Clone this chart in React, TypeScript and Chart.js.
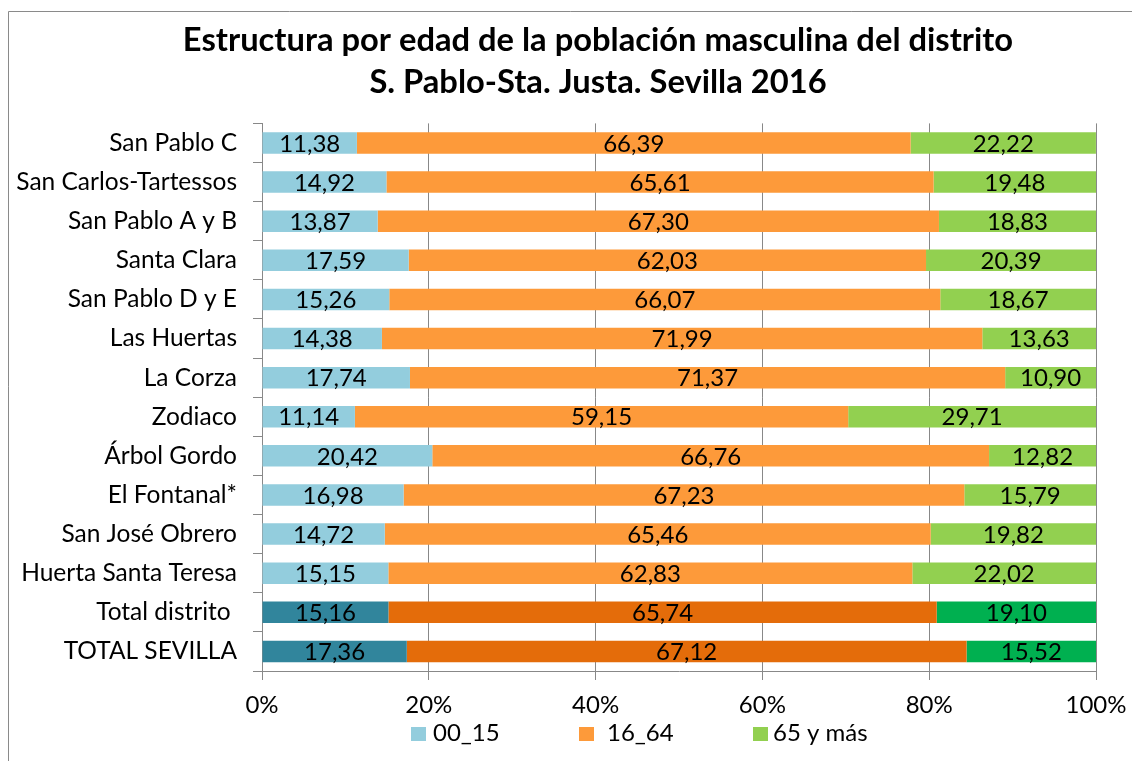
import React, { useEffect, useRef } from "react";
import { Chart, registerables } from "chart.js";

Chart.register(...registerables);

const categories = [
  "San Pablo C",
  "San Carlos-Tartessos",
  "San Pablo A y B",
  "Santa Clara",
  "San Pablo D y E",
  "Las Huertas",
  "La Corza",
  "Zodiaco",
  "Árbol Gordo",
  "El Fontanal*",
  "San José Obrero",
  "Huerta Santa Teresa",
  "Total distrito ",
  "TOTAL SEVILLA",
];

const age00_15 = [11.38, 14.92, 13.87, 17.59, 15.26, 14.38, 17.74, 11.14, 20.42, 16.98, 14.72, 15.15, 15.16, 17.36];
const age16_64 = [66.39, 65.61, 67.3, 62.03, 66.07, 71.99, 71.37, 59.15, 66.76, 67.23, 65.46, 62.83, 65.74, 67.12];
const age65plus = [22.22, 19.48, 18.83, 20.39, 18.67, 13.63, 10.9, 29.71, 12.82, 15.79, 19.82, 22.02, 19.1, 15.52];

const seriesLabels = ["00_15", "16_64", "65 y más"];
const xTickValues = [0, 20, 40, 60, 80, 100];

const titleLines = [
  "Estructura por edad de la población masculina del distrito",
  "S. Pablo-Sta. Justa. Sevilla 2016",
];

const FONT = "Lato, 'Open Sans', sans-serif";
const lightColors = ["#93CDDD", "#FD9A3A", "#92D050"];
const darkColors = ["#31859C", "#E46C0A", "#00B050"];
const GRID = "#888888";

const isTotal = (label: string) => label.trim().toLowerCase().startsWith("total");

const colorsFor = (i: number) => categories.map((c) => (isTotal(c) ? darkColors[i] : lightColors[i]));

const fmt = (v: number) => v.toFixed(2).replace(".", ",");

const framePlugin = {
  id: "frame",
  afterLayout(chart: any) {
    if (chart.titleBlock) {
      chart.titleBlock.left = 100;
    }
  },
  beforeDraw(chart: any) {
    const { ctx, width, height } = chart;
    ctx.save();
    ctx.fillStyle = "#ffffff";
    ctx.fillRect(0, 0, width, height);
    ctx.strokeStyle = "#8a8a8a";
    ctx.lineWidth = 1;
    ctx.beginPath();
    ctx.moveTo(8.5, height);
    ctx.lineTo(8.5, 11.5);
    ctx.lineTo(width, 11.5);
    ctx.stroke();
    ctx.restore();
  },
};

const labelsPlugin = {
  id: "barLabels",
  afterDatasetsDraw(chart: any) {
    const { ctx } = chart;
    ctx.save();
    ctx.font = `24px ${FONT}`;
    ctx.fillStyle = "#000000";
    ctx.textAlign = "center";
    ctx.textBaseline = "middle";
    chart.data.datasets.forEach((ds: any, di: number) => {
      const meta = chart.getDatasetMeta(di);
      meta.data.forEach((bar: any, i: number) => {
        const v = ds.data[i];
        const cx = (bar.x + bar.base) / 2;
        ctx.fillText(fmt(v), cx, bar.y + 1);
      });
    });
    ctx.restore();
  },
};

const legendPlugin = {
  id: "customLegend",
  afterDraw(chart: any) {
    const { ctx } = chart;
    const boxX = [411, 579, 753];
    const textX = [433, 607, 773];
    ctx.save();
    ctx.font = `24px ${FONT}`;
    ctx.textAlign = "left";
    ctx.textBaseline = "middle";
    chart.data.datasets.forEach((ds: any, i: number) => {
      ctx.fillStyle = lightColors[i];
      ctx.fillRect(boxX[i], 727, 15, 14);
      ctx.fillStyle = "#000000";
      ctx.fillText(ds.label, textX[i], 733);
    });
    ctx.restore();
  },
};

export default function App() {
  const ref = useRef<HTMLCanvasElement | null>(null);

  useEffect(() => {
    if (!ref.current) return;
    const data = [age00_15, age16_64, age65plus];
    const chart = new Chart(ref.current, {
      type: "bar",
      data: {
        labels: categories,
        datasets: seriesLabels.map((label, i) => ({
          label,
          data: data[i],
          backgroundColor: colorsFor(i),
          borderWidth: 0,
          barPercentage: 0.55,
          categoryPercentage: 1,
        })),
      },
      options: {
        indexAxis: "y",
        responsive: false,
        animation: false,
        layout: { padding: { left: 0, right: 36, top: 20, bottom: 40 } },
        plugins: {
          legend: { display: false },
          tooltip: { enabled: false },
          title: {
            display: true,
            text: titleLines,
            color: "#000000",
            font: { family: FONT, size: 32.7, weight: "bold", lineHeight: 1.275 },
            padding: { top: 0, bottom: 20 },
          },
        },
        scales: {
          x: {
            stacked: true,
            min: 0,
            max: 100,
            afterBuildTicks: (scale: any) => {
              scale.ticks = xTickValues.map((v) => ({ value: v }));
            },
            afterFit: (scale: any) => {
              scale.height = 50;
              scale.paddingLeft = 0;
              scale.paddingRight = 0;
            },
            ticks: {
              color: "#000000",
              font: { family: FONT, size: 24 },
              padding: 11,
              maxRotation: 0,
              callback: (v: any) => `${v}%`,
            },
            grid: { color: GRID, lineWidth: 1, tickLength: 9, drawTicks: true },
            border: { display: true, color: GRID, width: 1 },
          },
          y: {
            stacked: true,
            afterFit: (scale: any) => {
              scale.width = 262;
              scale.paddingTop = 0;
              scale.paddingBottom = 0;
            },
            ticks: {
              color: "#000000",
              font: { family: FONT, size: 24.5 },
              padding: 16,
              autoSkip: false,
            },
            grid: { display: true, drawOnChartArea: false, drawTicks: true, tickLength: 9, color: GRID, offset: true },
            border: { display: true, color: GRID, width: 1 },
          },
        },
      },
      plugins: [framePlugin, labelsPlugin, legendPlugin],
    } as any);
    return () => chart.destroy();
  }, []);

  return (
    <div style={{ position: "fixed", left: 0, top: 0, width: 1132, height: 761, background: "#fff", overflow: "hidden" }}>
      <canvas ref={ref} width={1132} height={761} style={{ display: "block" }} />
    </div>
  );
}
